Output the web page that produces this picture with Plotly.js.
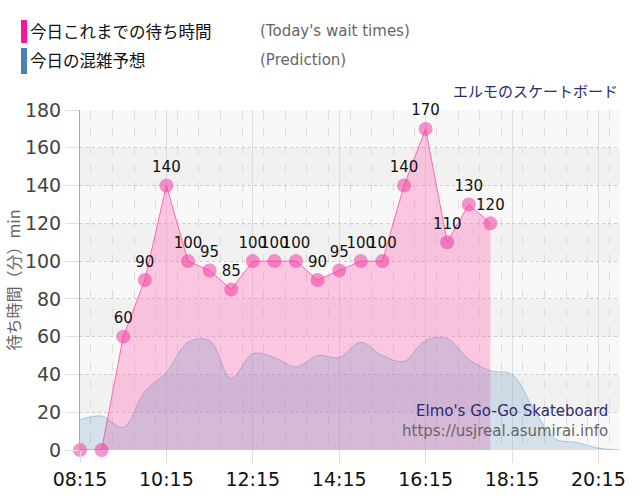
<!DOCTYPE html>
<html><head><meta charset="utf-8">
<script src="https://cdn.plot.ly/plotly-3.0.1.min.js"></script>
<style>html,body{margin:0;padding:0;background:#fff}#c{width:640px;height:500px}</style>
</head><body><div id="c"></div>
<script>
const DAY = '2024-01-01 ';
const waitTimes = ['08:15','08:45','09:15','09:45','10:15','10:45','11:15','11:45','12:15','12:45','13:15','13:45','14:15','14:45','15:15','15:45','16:15','16:45','17:15','17:45'];
const waitValues = [0,0,60,90,140,100,95,85,100,100,100,90,95,100,100,140,170,110,130,120];
const predTimes = ['08:15','08:45','09:15','09:45','10:15','10:45','11:15','11:45','12:15','12:45','13:15','13:45','14:15','14:45','15:15','15:45','16:15','16:45','17:15','17:45','18:15','18:45','19:15','19:45','20:15','20:45'];
const predValues = [16,18,12,31,41,57,58,38,51,49,44,50,49,57,50,47,58,59,48,42,40,22,6,4,1,0];
const yTicks = [0,20,40,60,80,100,120,140,160,180];
const xRange = ['08:15','20:45'];

const toDate = t => DAY + t + ':00';
const wx = waitTimes.map(toDate);
const px = predTimes.map(toDate);

const jp = '"Noto Sans CJK JP", "DejaVu Sans", sans-serif';
const lat = '"DejaVu Sans", Verdana, sans-serif';

const traces = [
  {x: wx, y: waitValues, type:'scatter', mode:'lines', fill:'tozeroy',
   fillcolor:'rgba(255,105,180,0.35)', line:{color:'#ff69b4', width:1},
   hoverinfo:'skip', cliponaxis:false},
  {x: px, y: predValues, type:'scatter', mode:'lines', fill:'tozeroy',
   fillcolor:'rgba(70,130,180,0.2)', line:{color:'rgba(70,130,180,0.35)', width:1, shape:'spline', smoothing:1},
   hoverinfo:'skip'},
  {x: wx, y: waitValues, type:'scatter', mode:'markers+text',
   marker:{size:14, color:'rgba(240,60,160,0.55)'},
   text: waitValues.map(v => v > 0 ? String(v) : ''), textposition:'top center',
   textfont:{family:lat, size:15, color:'#111'}, cliponaxis:false, hoverinfo:'skip'}
];

// helper to convert pixel coords to paper
const PX = x => (x - 80) / 540;
const PY = y => (450 - y) / 340;

const shapes = [];
for (let i = 0; i < yTicks.length - 1; i++) {
  shapes.push({type:'rect', xref:'paper', yref:'y', x0:0, x1:1, y0:yTicks[i], y1:yTicks[i+1],
    fillcolor: (i % 2 === 0) ? '#f8f8f8' : '#f1f1f1', line:{width:0}, layer:'below'});
}
shapes.push({type:'rect', xref:'paper', yref:'paper', x0:PX(21), x1:PX(27), y0:PY(43), y1:PY(20), fillcolor:'#ff1493', line:{width:0}});
shapes.push({type:'rect', xref:'paper', yref:'paper', x0:PX(21), x1:PX(27), y0:PY(74), y1:PY(48), fillcolor:'#4682b4', line:{width:0}});

const annotations = [
  {text:'今日これまでの待ち時間', xref:'paper', yref:'paper', x:PX(28), y:PY(31), xanchor:'left', yanchor:'middle', showarrow:false, font:{family:jp, size:16.5, color:'#111'}},
  {text:"(Today's wait times)", xref:'paper', yref:'paper', x:PX(258), y:PY(31), xanchor:'left', yanchor:'middle', showarrow:false, font:{family:lat, size:15, color:'#666'}},
  {text:'今日の混雑予想', xref:'paper', yref:'paper', x:PX(28), y:PY(60), xanchor:'left', yanchor:'middle', showarrow:false, font:{family:jp, size:16.5, color:'#111'}},
  {text:'(Prediction)', xref:'paper', yref:'paper', x:PX(258), y:PY(60), xanchor:'left', yanchor:'middle', showarrow:false, font:{family:lat, size:15, color:'#666'}},
  {text:'エルモのスケートボード', xref:'paper', yref:'paper', x:PX(620), y:PY(90), xanchor:'right', yanchor:'middle', showarrow:false, font:{family:jp, size:15, color:'#2b2b70'}},
  {text:"Elmo's Go-Go Skateboard", xref:'paper', yref:'paper', x:PX(610), y:PY(411), xanchor:'right', yanchor:'middle', showarrow:false, font:{family:lat, size:15, color:'#2b2b70'}},
  {text:'https://usjreal.asumirai.info', xref:'paper', yref:'paper', x:PX(610), y:PY(431), xanchor:'right', yanchor:'middle', showarrow:false, font:{family:lat, size:15, color:'#666'}}
];

const layout = {
  width:640, height:500,
  margin:{l:80, r:20, t:110, b:50},
  paper_bgcolor:'#ffffff', plot_bgcolor:'#f8f8f8',
  showlegend:false,
  xaxis:{type:'date', range:xRange.map(toDate), tickformat:'%H:%M', dtick:7200000, tick0:toDate('08:15'),
    tickfont:{family:lat, size:19, color:'#111'}, ticks:'outside', ticklen:12, tickcolor:'#dddddd',
    showgrid:true, gridcolor:'#dddddd', gridwidth:1,
    minor:{dtick:1800000, showgrid:true, gridcolor:'#dddddd', griddash:'dash', gridwidth:1},
    showline:false, zeroline:false, fixedrange:true},
  yaxis:{range:[0,180], tickvals:yTicks, ticks:'outside', ticklen:14, tickcolor:'#dddddd',
    tickfont:{family:lat, size:19, color:'#444'},
    showgrid:true, gridcolor:'#cccccc', griddash:'dot', gridwidth:1,
    showline:true, linecolor:'#aaaaaa', linewidth:1, zeroline:false,
    title:{text:'待ち時間（分）min', font:{family:jp, size:16, color:'#666'}, standoff:0}},
  shapes:shapes, annotations:annotations
};

Plotly.newPlot('c', traces, layout, {displayModeBar:false, staticPlot:true});
</script></body></html>
